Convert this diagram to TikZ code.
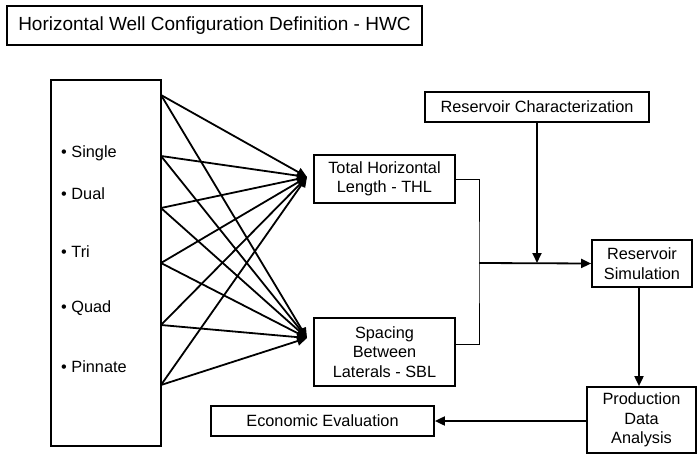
\documentclass[tikz,border=0pt]{standalone}
\usepackage{fontspec}
\setmainfont{Liberation Sans}
\usetikzlibrary{arrows.meta,calc}
\tikzset{
  box/.style={draw, line width=1.7pt, align=center, inner sep=0pt, font=\fontsize{16.3}{19.5}\selectfont},
  item/.style={anchor=west, inner sep=0pt, font=\fontsize{16.3}{19}\selectfont},
  conn/.style={line width=1.8pt, -{Triangle[length=10pt,width=9pt]}},
  thin/.style={line width=1pt},
}
\begin{document}
\begin{tikzpicture}[x=1pt,y=-1pt]
\useasboundingbox (0,0) rectangle (697,466);
\node[box, minimum width=415, minimum height=39, font=\fontsize{19}{22}\selectfont] (title) at (214.5,25.5) {Horizontal Well Configuration Definition - HWC};
\node[box, minimum width=110, minimum height=366] (L) at (106,263) {};
\node[item] (i1) at (61,153) {• Single};
\node[item] (i2) at (61,194) {• Dual};
\node[item] (i3) at (61,252) {• Tri};
\node[item] (i4) at (61,308) {• Quad};
\node[item] (i5) at (61,367) {• Pinnate};
\node[box, minimum width=141, minimum height=48] (THL) at (384.5,179) {Total Horizontal\\Length - THL};
\node[box, minimum width=141, minimum height=68] (SBL) at (384.5,352) {Spacing\\Between\\Laterals - SBL};
\node[box, minimum width=224, minimum height=30] (RC) at (537,107) {Reservoir Characterization};
\node[box, minimum width=100, minimum height=47] (RS) at (642,263.5) {Reservoir\\Simulation};
\node[box, minimum width=109, minimum height=66] (PDA) at (641.5,420) {Production\\Data\\Analysis};
\node[box, minimum width=223, minimum height=30] (EE) at (322.5,421) {Economic Evaluation};
\coordinate (s0) at (161,95);
\coordinate (s1) at (161,156);
\coordinate (s2) at (161,208);
\coordinate (s3) at (161,263);
\coordinate (s4) at (161,325);
\coordinate (s5) at (161,385);
\coordinate (tT) at (307,177);
\coordinate (tS) at (307,338);
\foreach \s in {s0,s1,s2,s3,s4,s5}{
  \draw[conn] (\s) -- (tT);
  \draw[conn] (\s) -- (tS);
}
\coordinate (J) at (479,263);
\draw[thin] (THL.east) -| (J) |- ($(SBL.east)+(0,-8)$);
\draw[conn] (J) -- (RS.west);
\draw[conn] (RC.south) -- (RC.south |- J);
\draw[conn] ($(RS.south)+(-3,0)$) -- ($(PDA.north)+(-2.5,0)$);
\draw[conn] (PDA.west |- EE.east) -- (EE.east);
\end{tikzpicture}
\end{document}
